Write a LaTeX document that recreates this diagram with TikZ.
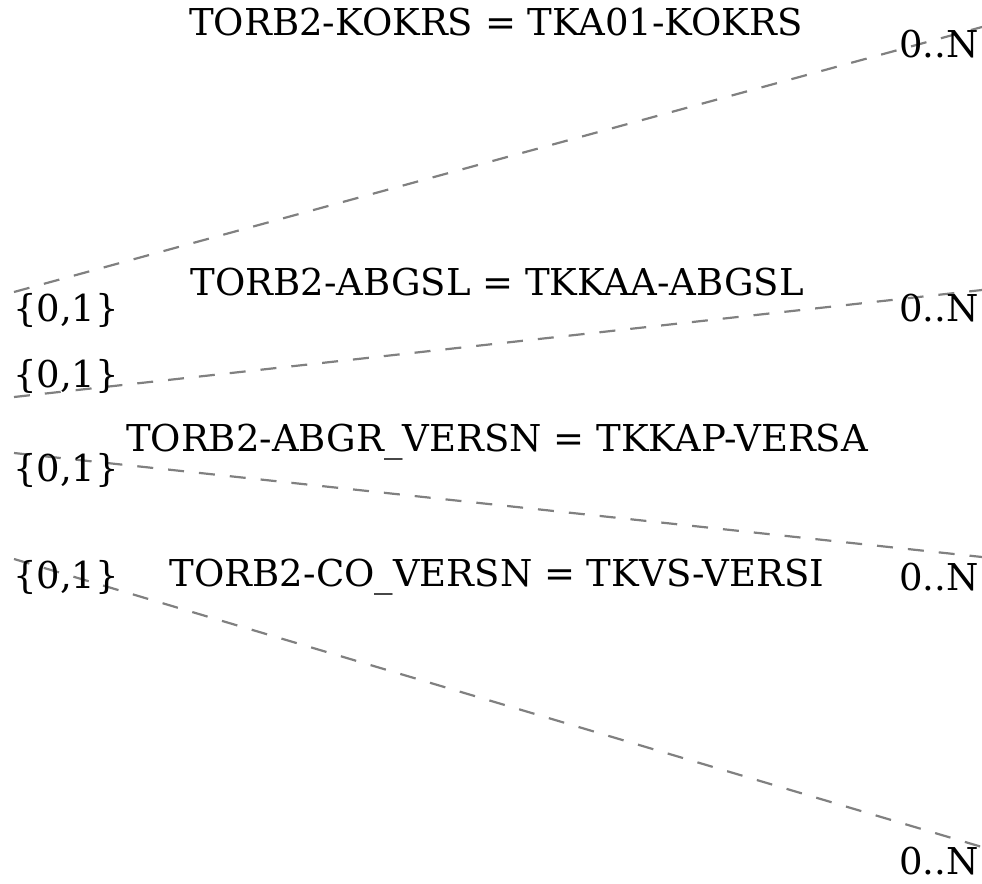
\documentclass[tikz,border=0pt]{standalone}
\usepackage{fontspec}
\setmainfont{DejaVu Serif}
\begin{document}
\begin{tikzpicture}[x=1pt,y=-1pt,
  lbl/.style={inner sep=0pt, font=\fontsize{37}{44}\selectfont},
  rel/.style={draw=gray, line width=2.2pt, dash pattern=on 16pt off 15pt}]
\useasboundingbox (0,0) rectangle (982,883);
% endpoints
\coordinate (a1) at (14,292);  \coordinate (b1) at (982,27);
\coordinate (a2) at (14,397);  \coordinate (b2) at (982,290);
\coordinate (a3) at (14,453);  \coordinate (b3) at (982,557);
\coordinate (a4) at (14,559);  \coordinate (b4) at (982,847);
\draw[rel] (a1) -- (b1);
\draw[rel] (a2) -- (b2);
\draw[rel] (a3) -- (b3);
\draw[rel] (a4) -- (b4);
% labels
\node[lbl] (n1) at (496,22) {TORB2-KOKRS = TKA01-KOKRS};
\node[lbl] (m1) at (939,44) {0..N};
\node[lbl] (c1) at (66,310) {\{0,1\}};
\node[lbl] (n2) at (497,282) {TORB2-ABGSL = TKKAA-ABGSL};
\node[lbl] (m2) at (939,308) {0..N};
\node[lbl] (c2) at (66,376) {\{0,1\}};
\node[lbl] (n3) at (497,442) {TORB2-ABGR\_VERSN = TKKAP-VERSA};
\node[lbl] (c3) at (66,470) {\{0,1\}};
\node[lbl] (n4) at (497,577) {TORB2-CO\_VERSN = TKVS-VERSI};
\node[lbl] (c4) at (66,577) {\{0,1\}};
\node[lbl] (m3) at (939,577) {0..N};
\node[lbl] (m4) at (939,861) {0..N};
\end{tikzpicture}
\end{document}
